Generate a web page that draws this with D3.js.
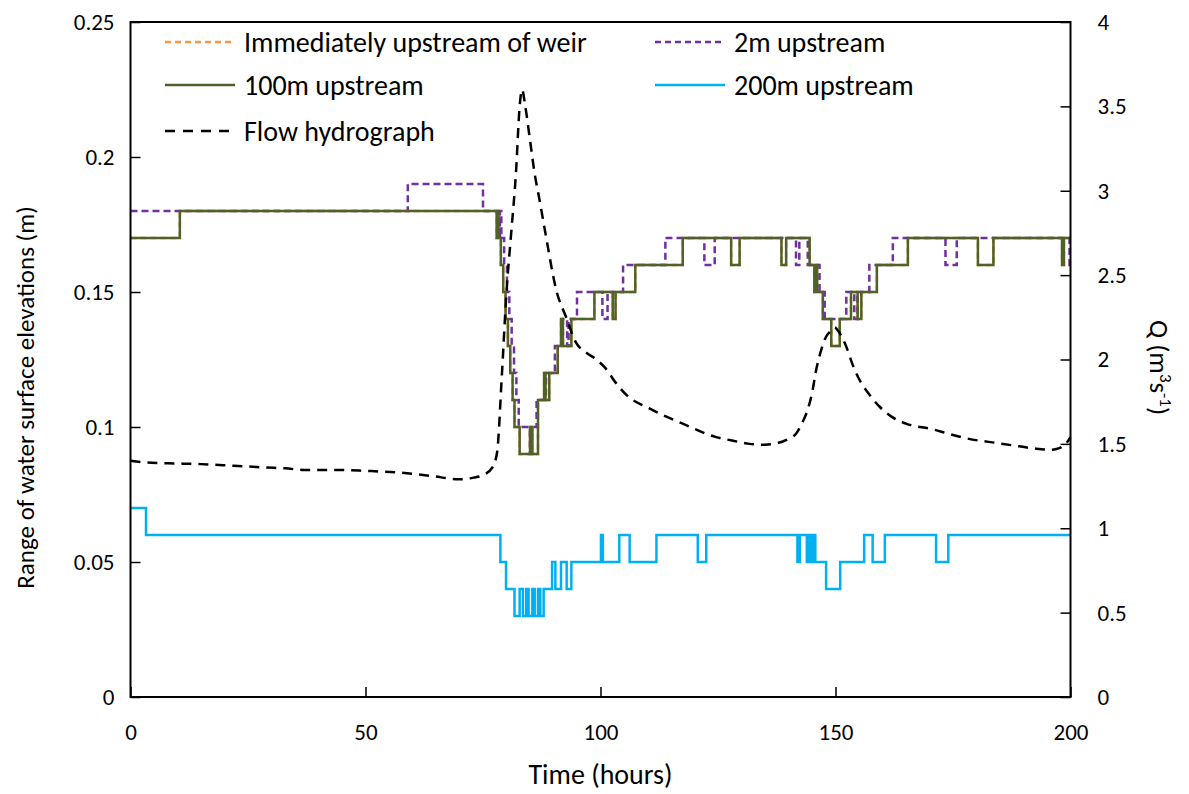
<!DOCTYPE html>
<html>
<head>
<meta charset="utf-8">
<script src="https://cdn.jsdelivr.net/npm/d3@7"></script>
<style>
  html, body { margin: 0; padding: 0; background: #fff; }
  svg text { font-family: Carlito, Calibri, Lato, "Open Sans", sans-serif; fill: #000; }
</style>
</head>
<body>
<svg id="chart" width="1189" height="794"></svg>
<script>
// ---------- data ----------
const xTicks = [0, 50, 100, 150, 200];
const yLeftTicks = [0, 0.05, 0.1, 0.15, 0.2, 0.25];
const yRightTicks = [0, 0.5, 1, 1.5, 2, 2.5, 3, 3.5, 4];

const seriesNames = ["Immediately upstream of weir", "2m upstream", "100m upstream", "200m upstream", "Flow hydrograph"];

// 100m upstream (step changes: time, value)
const m100Times = [0, 10.5, 77.9, 78.1, 78.3, 78.8, 79.3, 79.8, 80.3, 80.8, 81.3, 81.7, 82.8, 85.0, 85.5, 86.7, 88.0, 88.3, 89.1, 90.9, 91.6, 92.0, 93.8, 98.7, 102.6, 103.2, 107.4, 117.5, 127.8, 129.6, 138.5, 139.5, 144.5, 145.5, 145.8, 146.1, 147.3, 149.1, 150.9, 153.3, 154.7, 155.5, 158.8, 165.4, 180.3, 183.6, 198.2, 198.6, 200];
const m100Vals  = [0.17, 0.18, 0.17, 0.18, 0.17, 0.16, 0.15, 0.14, 0.13, 0.12, 0.11, 0.10, 0.09, 0.10, 0.09, 0.11, 0.12, 0.11, 0.12, 0.13, 0.14, 0.13, 0.14, 0.15, 0.14, 0.15, 0.16, 0.17, 0.16, 0.17, 0.16, 0.17, 0.16, 0.15, 0.16, 0.15, 0.14, 0.13, 0.14, 0.15, 0.14, 0.15, 0.16, 0.17, 0.16, 0.17, 0.16, 0.17, 0.17];

// Immediately upstream of weir (hidden beneath the 100m line in the original)
const weirTimes = [0, 10.5, 77.9, 78.1, 78.3, 78.8, 79.3, 79.8, 80.3, 80.8, 81.3, 81.7, 82.8, 85.0, 85.5, 86.7, 88.0, 88.3, 89.1, 90.9, 91.6, 92.0, 93.8, 98.7, 102.6, 103.2, 107.4, 117.5, 127.8, 129.6, 138.5, 139.5, 144.5, 145.5, 145.8, 146.1, 147.3, 149.1, 150.9, 153.3, 154.7, 155.5, 158.8, 165.4, 180.3, 183.6, 198.2, 198.6, 200];
const weirVals  = [0.17, 0.18, 0.17, 0.18, 0.17, 0.16, 0.15, 0.14, 0.13, 0.12, 0.11, 0.10, 0.09, 0.10, 0.09, 0.11, 0.12, 0.11, 0.12, 0.13, 0.14, 0.13, 0.14, 0.15, 0.14, 0.15, 0.16, 0.17, 0.16, 0.17, 0.16, 0.17, 0.16, 0.15, 0.16, 0.15, 0.14, 0.13, 0.14, 0.15, 0.14, 0.15, 0.16, 0.17, 0.16, 0.17, 0.16, 0.17, 0.17];

// 2m upstream
const m2Times = [0, 59, 75, 78.4, 78.6, 78.9, 79.5, 80.1, 80.6, 81.1, 81.6, 82.1, 82.6, 85.0, 85.4, 86.4, 88.4, 90.3, 92.0, 92.9, 93.2, 95.0, 100.4, 101.5, 104.8, 113.8, 122.1, 124.3, 141.6, 142.3, 144.1, 146.6, 147.7, 152.3, 154.0, 154.7, 157.2, 162.2, 173.4, 175.8, 199.8, 200];
const m2Vals  = [0.18, 0.19, 0.18, 0.17, 0.18, 0.17, 0.16, 0.15, 0.14, 0.13, 0.12, 0.11, 0.10, 0.09, 0.10, 0.11, 0.12, 0.13, 0.14, 0.13, 0.14, 0.15, 0.14, 0.15, 0.16, 0.17, 0.16, 0.17, 0.16, 0.17, 0.16, 0.15, 0.14, 0.15, 0.14, 0.15, 0.16, 0.17, 0.16, 0.17, 0.16, 0.16];

// 200m upstream
const m200Times = [0, 3.3, 78.7, 79.9, 81.7, 82.8, 83.5, 84.2, 84.7, 85.5, 86.0, 86.7, 87.2, 87.9, 89.7, 90.4, 91.6, 92.8, 93.8, 100.1, 100.5, 104.0, 106.2, 111.9, 120.7, 122.5, 141.9, 142.4, 143.9, 144.4, 144.8, 145.3, 145.7, 148.0, 151.0, 156.1, 157.9, 160.5, 171.4, 174.0, 200];
const m200Vals  = [0.07, 0.06, 0.05, 0.04, 0.03, 0.04, 0.03, 0.04, 0.03, 0.04, 0.03, 0.04, 0.03, 0.04, 0.05, 0.04, 0.05, 0.04, 0.05, 0.06, 0.05, 0.06, 0.05, 0.06, 0.05, 0.06, 0.05, 0.06, 0.05, 0.06, 0.05, 0.06, 0.05, 0.04, 0.05, 0.06, 0.05, 0.06, 0.05, 0.06, 0.06];

// Flow hydrograph (right axis, m3/s)
const flowTimes = [0, 3, 8, 15, 22, 29, 33, 37, 45, 50, 57, 64, 70, 73, 75, 77, 78, 79, 80, 81, 82, 82.8, 83.3, 84, 85, 86, 87, 88.4, 90.6, 92.7, 94.8, 97, 99.1, 101, 103.3, 105.5, 110.4, 117.5, 124.6, 128, 131.7, 135, 137.4, 140, 141.6, 143, 143.8, 145, 145.9, 147, 148, 149, 149.8, 151, 152.3, 153.5, 155.1, 157, 159.4, 162, 165, 170.7, 174, 177.8, 184.9, 188, 192, 195.5, 197, 199.1, 200];
const flowVals  = [1.40, 1.39, 1.385, 1.38, 1.37, 1.36, 1.355, 1.345, 1.345, 1.34, 1.33, 1.31, 1.29, 1.30, 1.315, 1.36, 1.45, 1.9, 2.4, 2.75, 3.1, 3.5, 3.6, 3.5, 3.3, 3.1, 2.95, 2.73, 2.41, 2.25, 2.10, 2.04, 2.00, 1.95, 1.86, 1.79, 1.71, 1.62, 1.54, 1.52, 1.50, 1.495, 1.503, 1.53, 1.56, 1.63, 1.68, 1.80, 1.94, 2.06, 2.135, 2.17, 2.19, 2.15, 2.076, 1.98, 1.88, 1.80, 1.72, 1.66, 1.62, 1.586, 1.56, 1.533, 1.503, 1.49, 1.474, 1.465, 1.47, 1.503, 1.54];

// ---------- layout ----------
const svg = d3.select("#chart");
const L = 130.5, R = 1070.5, T = 22, B = 697;

const x = d3.scaleLinear().domain([0, 200]).range([L, R]);
const yL = d3.scaleLinear().domain([0, 0.25]).range([B, T]);
const yR = d3.scaleLinear().domain([0, 4]).range([B, T]);

const zip = (ts, vs) => ts.map((t, i) => [t, vs[i]]);

const stepLine = d3.line().x(d => x(d[0])).y(d => yL(d[1])).curve(d3.curveStepAfter);
const flowLine = d3.line().x(d => x(d[0])).y(d => yR(d[1])).curve(d3.curveMonotoneX);

const plot = svg.append("g");
plot.append("path").datum(zip(weirTimes, weirVals)).attr("d", stepLine)
  .attr("fill", "none").attr("stroke", "#F79646").attr("stroke-width", 2.5).attr("stroke-dasharray", "6,4");
plot.append("path").datum(zip(m2Times, m2Vals)).attr("d", stepLine)
  .attr("fill", "none").attr("stroke", "#7030A0").attr("stroke-width", 2.5).attr("stroke-dasharray", "7,4");
plot.append("path").datum(zip(m100Times, m100Vals)).attr("d", stepLine)
  .attr("fill", "none").attr("stroke", "#4F6228").attr("stroke-width", 2.5);
plot.append("path").datum(zip(m200Times, m200Vals)).attr("d", stepLine)
  .attr("fill", "none").attr("stroke", "#00B0F0").attr("stroke-width", 2.5);
plot.append("path").datum(zip(flowTimes, flowVals)).attr("d", flowLine)
  .attr("fill", "none").attr("stroke", "#000").attr("stroke-width", 2.5).attr("stroke-dasharray", "10,7");

// ---------- axes ----------
const fmtL = d => d === 0 ? "0" : String(+d.toFixed(2));
const axL = d3.axisLeft(yL).tickValues(yLeftTicks).tickFormat(fmtL).tickSize(-10).tickSizeOuter(0).tickPadding(16);
const axR = d3.axisRight(yR).tickValues(yRightTicks).tickFormat(d => String(d)).tickSize(-10).tickSizeOuter(0).tickPadding(27);
const axB = d3.axisBottom(x).tickValues(xTicks).tickFormat(d => String(d)).tickSize(-10).tickSizeOuter(0).tickPadding(27);

function style(g) {
  g.selectAll("path.domain").remove();
  g.selectAll("line").attr("stroke", "#000").attr("stroke-width", 1.5);
  g.selectAll("text").style("font-size", "23px").attr("fill", "#000");
}
svg.append("g").attr("transform", `translate(${L},0)`).call(axL).call(style);
svg.append("g").attr("transform", `translate(${R},0)`).call(axR).call(style);
svg.append("g").attr("transform", `translate(0,${B})`).call(axB).call(style);

// frame
svg.append("rect").attr("x", L).attr("y", T).attr("width", R - L).attr("height", B - T)
  .attr("fill", "none").attr("stroke", "#000").attr("stroke-width", 2);

// titles
svg.append("text").attr("x", (L + R) / 2).attr("y", 784).attr("text-anchor", "middle")
  .style("font-size", "28px").text("Time (hours)");
svg.append("text").attr("transform", `translate(34,${(T + B) / 2 + 38}) rotate(-90)`).attr("text-anchor", "middle")
  .style("font-size", "25px").text("Range of water surface elevations (m)");
const rt = svg.append("text").attr("transform", `translate(1150,${(T + B) / 2 + 8}) rotate(90)`).attr("text-anchor", "middle")
  .style("font-size", "27px");
rt.append("tspan").text("Q (m");
rt.append("tspan").attr("baseline-shift", "super").style("font-size", "17px").text("3");
rt.append("tspan").text("s");
rt.append("tspan").attr("baseline-shift", "super").style("font-size", "17px").text("-1");
rt.append("tspan").text(")");

// ---------- legend ----------
const legendItems = [
  { name: seriesNames[0], color: "#F79646", dash: "6,4", col: 0, row: 0 },
  { name: seriesNames[1], color: "#7030A0", dash: "6,4", col: 1, row: 0 },
  { name: seriesNames[2], color: "#4F6228", dash: null, col: 0, row: 1 },
  { name: seriesNames[3], color: "#00B0F0", dash: null, col: 1, row: 1 },
  { name: seriesNames[4], color: "#000000", dash: "10,8", col: 0, row: 2 }
];
const colX = [165, 655], rowY = [42, 85, 131];
const lg = svg.append("g");
legendItems.forEach(it => {
  const x0 = colX[it.col], y0 = rowY[it.row];
  const ln = lg.append("line").attr("x1", x0).attr("x2", x0 + 70).attr("y1", y0).attr("y2", y0)
    .attr("stroke", it.color).attr("stroke-width", 2.5);
  if (it.dash) ln.attr("stroke-dasharray", it.dash);
  lg.append("text").attr("x", x0 + 79).attr("y", y0).attr("dy", "0.35em")
    .style("font-size", "28px").text(it.name);
});
</script>
</body>
</html>
